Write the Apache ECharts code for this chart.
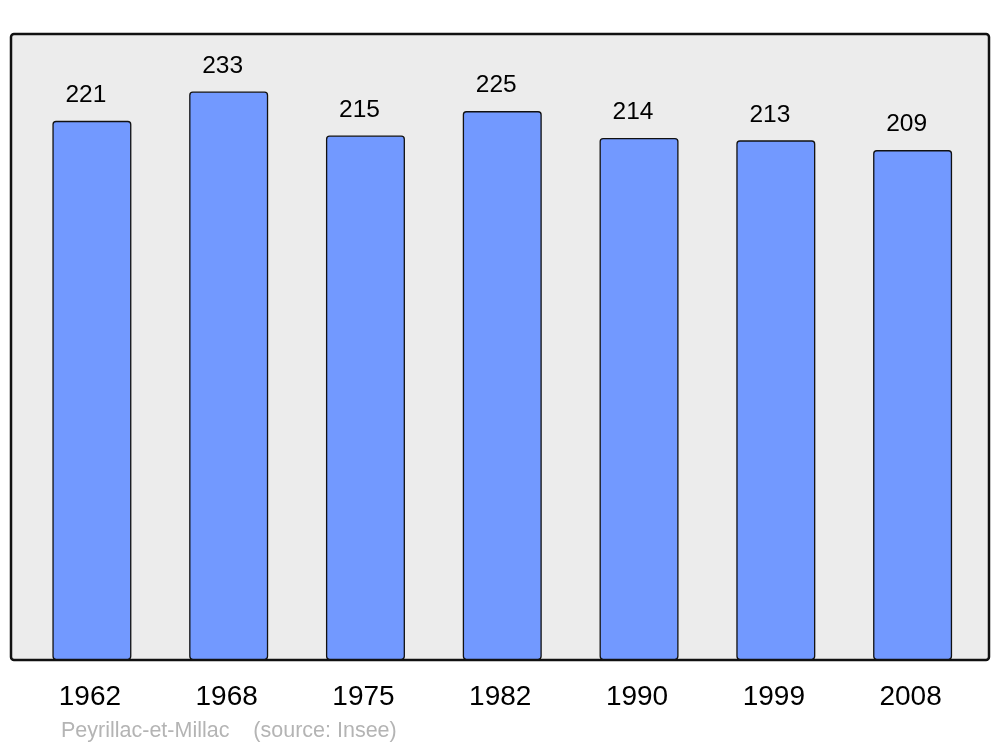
<!DOCTYPE html>
<html><head><meta charset="utf-8">
<script src="https://cdn.jsdelivr.net/npm/echarts@6/dist/echarts.min.js"></script>
<style>html,body{margin:0;padding:0;background:#fff}#c{width:1000px;height:747px}</style>
</head><body><div id="c"></div>
<script>
const years = ['1962','1968','1975','1982','1990','1999','2008'];
const population = [221,233,215,225,214,213,209];
const footerText = 'Peyrillac-et-Millac    (source: Insee)';

const chart = echarts.init(document.getElementById('c'), null, {renderer:'canvas'});
const font = '"Liberation Sans", Arial, sans-serif';
chart.setOption({
  animation:false,
  backgroundColor:'#ffffff',
  grid:{left:23.5, right:19, top:34, bottom:87, containLabel:false},
  graphic:[
    {type:'rect', z:-10, shape:{x:11, y:34, width:978, height:626, r:3},
     style:{fill:'#ececec', stroke:'#111', lineWidth:2.5}},
    {type:'text', left:61, top:720, style:{text:footerText, fill:'#b4b4b4', font:'21.5px '+font}}
  ],
  xAxis:{type:'category', data:years,
    axisLine:{show:false}, axisTick:{show:false}, splitLine:{show:false},
    axisLabel:{color:'#000', fontSize:28, fontFamily:font, margin:23, padding:[0,4,0,0]}},
  yAxis:{type:'value', min:0, max:256.6, show:false, splitLine:{show:false}},
  series:[{type:'bar', data:population, barWidth:79,
    itemStyle:{color:'#7299ff', borderColor:'#111', borderWidth:1.3, borderRadius:3},
    label:{show:true, position:'top', distance:13, offset:[-6,0], color:'#000', fontSize:24.5, fontFamily:font}
  }]
});
</script></body></html>
